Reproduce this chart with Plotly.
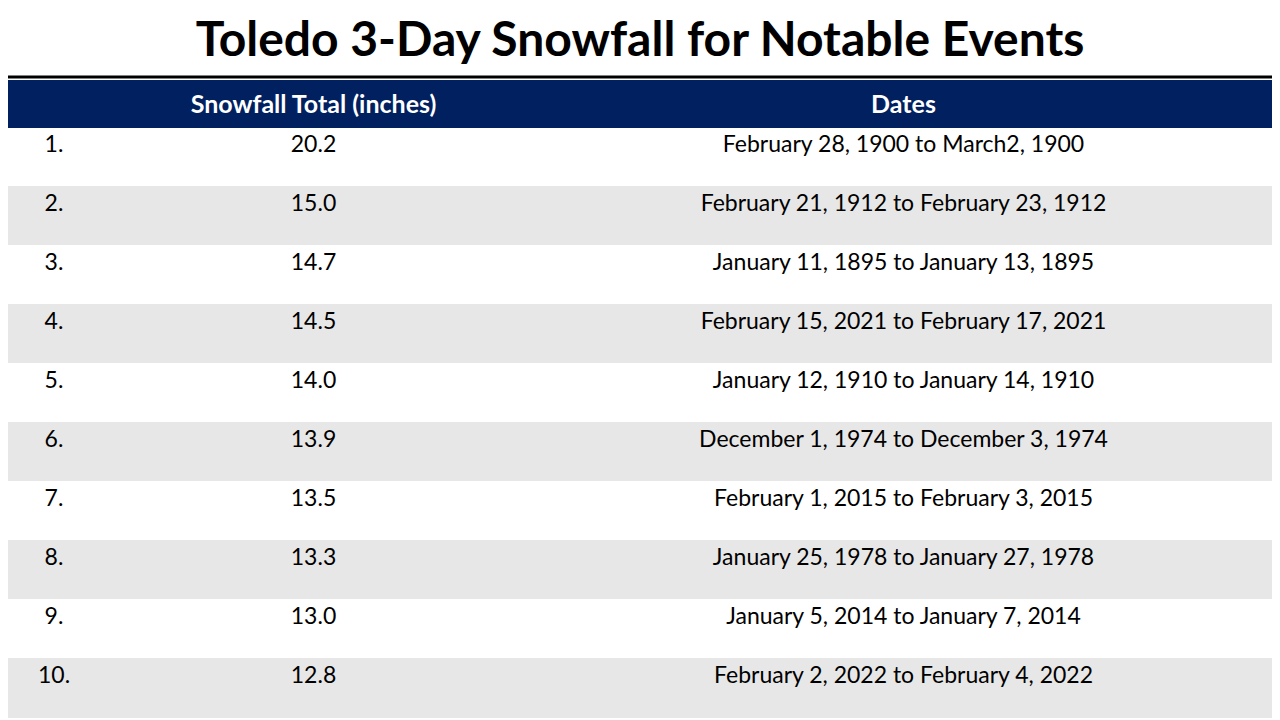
import plotly.graph_objects as go

ranks = ["1.", "2.", "3.", "4.", "5.", "6.", "7.", "8.", "9.", "10."]
totals = ["20.2", "15.0", "14.7", "14.5", "14.0", "13.9", "13.5", "13.3", "13.0", "12.8"]
dates = [
    "February 28, 1900 to March2, 1900",
    "February 21, 1912 to February 23, 1912",
    "January 11, 1895 to January 13, 1895",
    "February 15, 2021 to February 17, 2021",
    "January 12, 1910 to January 14, 1910",
    "December 1, 1974 to December 3, 1974",
    "February 1, 2015 to February 3, 2015",
    "January 25, 1978 to January 27, 1978",
    "January 5, 2014 to January 7, 2014",
    "February 2, 2022 to February 4, 2022",
]
headers = ["", "<b>Snowfall Total (inches)</b>", "<b>Dates</b>"]
title = "<b>Toledo 3-Day Snowfall for Notable Events</b>"

row_fill = ["white" if i % 2 == 0 else "#E7E7E7" for i in range(len(ranks))]

W, H = 1272, 712
fig = go.Figure(go.Table(
    columnwidth=[92, 427, 753],
    domain=dict(x=[0, 1], y=[0, 1 - 72 / H]),
    header=dict(values=headers, fill_color="#002060", line_color="#002060",
                font=dict(color="white", size=25, family="Lato"),
                align="center", height=47),
    cells=dict(values=[ranks, totals, dates], fill_color=[row_fill] * 3,
               line_color=[row_fill] * 3,
               font=dict(color="black", size=23, family="Lato"),
               align="center", height=59),
))
fig.add_shape(type="line", xref="paper", yref="paper", x0=0, x1=1,
              y0=1 - 69 / H, y1=1 - 69 / H, line=dict(color="black", width=3))
fig.update_layout(
    width=W, height=H, margin=dict(l=0, r=0, t=0, b=0),
    paper_bgcolor="white",
    title=dict(text=title, x=(640 - 8) / W, xanchor="center", y=1 - 31 / H, yanchor="middle",
               font=dict(size=48, family="Lato", color="black")),
)
fig.write_html("out.html")
